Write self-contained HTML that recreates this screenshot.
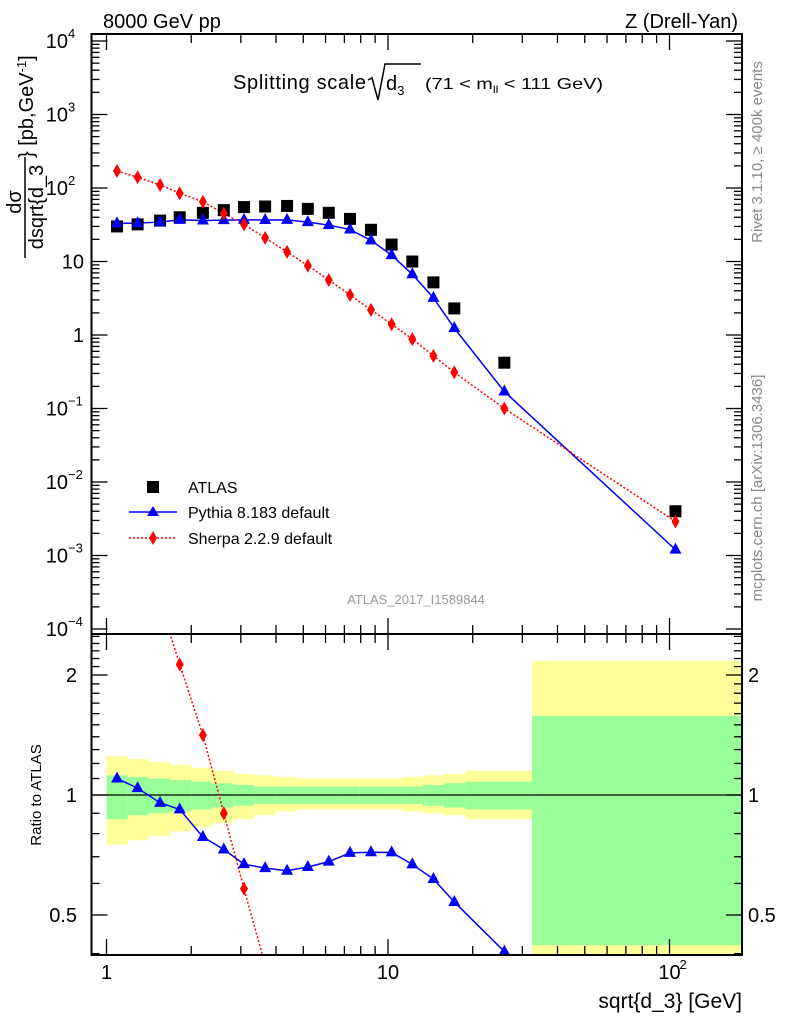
<!DOCTYPE html>
<html><head><meta charset="utf-8"><style>
html,body{margin:0;padding:0;background:#fff;overflow:hidden;width:786px;height:1024px;}
svg{display:block;font-family:"Liberation Sans",sans-serif;}
</style></head><body>
<svg id="chart" width="786" height="1024" viewBox="0 0 786 1024">
<g id="bands"></g>
<g id="ticks"></g>
<g id="series"></g>
<rect x="91.5" y="34" width="650.5" height="600" fill="none" stroke="#000" stroke-width="2"/>
<rect x="91.5" y="634" width="650.5" height="321" fill="none" stroke="#000" stroke-width="2"/>
<text x="103" y="28" font-size="20">8000 GeV pp</text>
<text x="738" y="28" font-size="20" text-anchor="end">Z (Drell-Yan)</text>
<g>
<text x="233" y="89" font-size="20" textLength="133">Splitting scale</text>
<path d="M368,80 L372,78 L378,100 L385,64 L421,64" fill="none" stroke="#000" stroke-width="1.5"/>
<text x="386" y="90" font-size="20">d<tspan font-size="13" dy="5">3</tspan></text>
<text x="425" y="89" font-size="16" textLength="178" lengthAdjust="spacingAndGlyphs">(71 &lt; m<tspan font-size="10" dy="4">ll</tspan><tspan dy="-4"> &lt; 111 GeV)</tspan></text>
</g>
<text x="416" y="604" font-size="13" fill="#999" text-anchor="middle">ATLAS_2017_I1589844</text>
<g>
<text transform="translate(21,202) rotate(-90)" font-size="20" text-anchor="middle">dσ</text>
<line x1="25" y1="258" x2="25" y2="157" stroke="#000" stroke-width="1.5"/>
<text transform="translate(43,207) rotate(-90)" font-size="20" text-anchor="middle">dsqrt{d_3</text>
<text transform="translate(33,158) rotate(-90)" font-size="20">} [pb,GeV<tspan font-size="13" dy="-7">-1</tspan><tspan dy="7">]</tspan></text>
</g>
<text transform="translate(41,795) rotate(-90)" font-size="15" text-anchor="middle">Ratio to ATLAS</text>
<text x="742" y="1008" font-size="21" text-anchor="end">sqrt{d_3} [GeV]</text>
<text transform="translate(762,152) rotate(-90)" font-size="15" fill="#888" text-anchor="middle">Rivet 3.1.10, ≥ 400k events</text>
<text transform="translate(762,488) rotate(-90)" font-size="15" fill="#888" text-anchor="middle">mcplots.cern.ch [arXiv:1306.3436]</text>
<g>
<rect x="147" y="481" width="12" height="12" fill="#000"/>
<text x="188" y="493" font-size="16">ATLAS</text>
<line x1="129" y1="512" x2="177" y2="512" stroke="#00f" stroke-width="1.5"/>
<path d="M153,506 L159,516 L147,516Z" fill="#00f"/>
<text x="188" y="518" font-size="16">Pythia 8.183 default</text>
<line x1="129" y1="538" x2="177" y2="538" stroke="#f00" stroke-width="1.5" stroke-dasharray="2,2"/>
<path d="M153,531 L157,538 L153,545 L149,538Z" fill="#f00"/>
<text x="188" y="544" font-size="16">Sherpa 2.2.9 default</text>
</g>
</svg>
<script>
const xCenters=[1.09,1.29,1.55,1.82,2.2,2.61,3.08,3.66,4.38,5.19,6.16,7.33,8.7,10.3,12.2,14.5,17.2,25.9,105];
const binEdges=[1,1.19,1.41,1.68,2,2.37,2.82,3.35,3.98,4.73,5.62,6.68,7.94,9.44,11.2,13.3,15.8,18.8,32.5,181];
const atlas=[30,32,36,40,46,50,55,56,57,52,46,38,27,17,10,5.2,2.3,0.42,0.004];
const pythia=[33,33.3,34.4,36.8,36.1,36.5,36.9,36.7,36.8,34.3,31.3,27.2,19.4,12.2,6.7,3.2,1.24,0.17,0.0012];
const sherpa=[170,140,110,85,65,45,32,21,13.5,8.8,5.6,3.5,2.2,1.4,0.88,0.52,0.31,0.1,0.0029];
const yellowUp=[1.25,1.23,1.21,1.19,1.17,1.15,1.13,1.12,1.11,1.10,1.10,1.10,1.10,1.10,1.11,1.12,1.13,1.15,2.17];
const yellowDn=[0.75,0.77,0.79,0.81,0.83,0.85,0.87,0.89,0.91,0.92,0.92,0.92,0.92,0.92,0.91,0.90,0.89,0.87,0.30];
const greenUp=[1.12,1.11,1.10,1.09,1.08,1.07,1.06,1.05,1.05,1.05,1.05,1.05,1.05,1.05,1.05,1.06,1.07,1.08,1.58];
const greenDn=[0.87,0.89,0.90,0.91,0.92,0.93,0.94,0.95,0.95,0.95,0.95,0.95,0.95,0.95,0.95,0.94,0.93,0.92,0.42];
const mainTickLabels=["10⁻⁴","10⁻³","10⁻²","10⁻¹","1","10","10²","10³","10⁴"];
const ratioTickLabels=["0.5","1","2"];
const ratioTickValues=[0.5,1,2];

const NS="http://www.w3.org/2000/svg";
const X0=91.5,X1=742,YT=34,YM=634,YB=955;
function sx(v){return 106.5+281.5*Math.log10(v);}
function sy(v){return 335-73.5*Math.log10(v);}
function sr(v){return 795-398.6*Math.log10(v);}
function el(tag,attrs,parent){const e=document.createElementNS(NS,tag);for(const k in attrs)e.setAttribute(k,attrs[k]);parent.appendChild(e);return e;}
const bands=document.getElementById('bands'),ticks=document.getElementById('ticks'),series=document.getElementById('series'),svg=document.getElementById('chart');
function clampR(y){return Math.max(YM,Math.min(YB,y));}

for(let i=0;i<xCenters.length;i++){
  const xa=Math.max(X0,sx(binEdges[i])),xb=Math.min(X1,sx(binEdges[i+1]));
  const y1=clampR(sr(yellowUp[i])),y2=clampR(sr(yellowDn[i]));
  const r=el('rect',{x:xa,y:y1,width:xb-xa,height:y2-y1,fill:'#ffff99'},bands);
  
  
  const g1=clampR(sr(greenUp[i])),g2=clampR(sr(greenDn[i]));
  const g=el('rect',{x:xa,y:g1,width:xb-xa,height:g2-g1,fill:'#99ff99'},bands);
  
  
}
el('line',{x1:X0,x2:X1,y1:sr(1),y2:sr(1),stroke:'#000','stroke-width':1.2},bands);

for(let d=0;d<3;d++){for(let m=1;m<10;m++){const v=m*Math.pow(10,d);const x=sx(v);if(x<X0||x>X1)continue;const L=m===1?16:9;
  el('line',{x1:x,x2:x,y1:YT,y2:YT+L,stroke:'#000','stroke-width':1.3},ticks);
  el('line',{x1:x,x2:x,y1:YM,y2:YM-L,stroke:'#000','stroke-width':1.3},ticks);
  el('line',{x1:x,x2:x,y1:YM,y2:YM+L,stroke:'#000','stroke-width':1.3},ticks);
  el('line',{x1:x,x2:x,y1:YB,y2:YB-L,stroke:'#000','stroke-width':1.3},ticks);}}
[["1",1],["10",10]].forEach(([t,v])=>{const tx=el('text',{x:sx(v),y:979,'font-size':20,'text-anchor':'middle'},svg);tx.textContent=t;});
{const tx=el('text',{x:sx(100),y:979,'font-size':20,'text-anchor':'middle'},svg);tx.textContent='10';
 const s=el('text',{x:sx(100)+10,y:969,'font-size':13},svg);s.textContent='2';}
for(let d=-4;d<=4;d++){for(let m=1;m<10;m++){const v=m*Math.pow(10,d);const y=sy(v);if(y<YT||y>YM)continue;const L=m===1?16:8;
  el('line',{x1:X0,x2:X0+L,y1:y,y2:y,stroke:'#000','stroke-width':1.3},ticks);el('line',{x1:X1,x2:X1-L,y1:y,y2:y,stroke:'#000','stroke-width':1.3},ticks);}}
mainTickLabels.forEach((t,i)=>{const d=i-4;const y=sy(Math.pow(10,d));let tx;
  if(d===0||d===1){tx=el('text',{x:84,y:y+7,'font-size':20,'text-anchor':'end'},svg);tx.textContent=t;}
  else{tx=el('text',{x:68,y:y+7,'font-size':20,'text-anchor':'end'},svg);tx.textContent='10';const s=el('text',{x:68,y:y-3,'font-size':13},svg);s.textContent=d<0?('−'+(-d)):String(d);}
  });
for(let k=4;k<=25;k++){const v=k/10;const y=sr(v);if(y<YM||y>YB)continue;const maj=(k===5||k===10||k===20);const L=maj?16:8;
  el('line',{x1:X0,x2:X0+L,y1:y,y2:y,stroke:'#000','stroke-width':1.3},ticks);el('line',{x1:X1,x2:X1-L,y1:y,y2:y,stroke:'#000','stroke-width':1.3},ticks);}
ratioTickValues.forEach((v,i)=>{const y=sr(v)+7;const a=el('text',{x:77,y:y,'font-size':20,'text-anchor':'end'},svg);a.textContent=ratioTickLabels[i];
  const b=el('text',{x:748,y:y,'font-size':20},svg);b.textContent=ratioTickLabels[i];});

const defs=el('defs',{},svg);
const cm=el('clipPath',{id:'cm'},defs);el('rect',{x:X0,y:YT,width:X1-X0,height:YM-YT},cm);
const cr=el('clipPath',{id:'cr'},defs);el('rect',{x:X0,y:YM,width:X1-X0,height:YB-YM},cr);
const gm=el('g',{'clip-path':'url(#cm)'},series),gr=el('g',{'clip-path':'url(#cr)'},series);

function tri(x,y,g,name){const p=el('path',{d:`M${x},${y-7} L${x+6},${y+4} L${x-6},${y+4}Z`,fill:'#00f'},g);}
function dia(x,y,g,name){const p=el('path',{d:`M${x},${y-7} L${x+4},${y} L${x},${y+7} L${x-4},${y}Z`,fill:'#f00'},g);}
el('polyline',{points:xCenters.map((x,i)=>sx(x)+','+sy(pythia[i])).join(' '),fill:'none',stroke:'#00f','stroke-width':1.5},gm);
el('polyline',{points:xCenters.map((x,i)=>sx(x)+','+sy(sherpa[i])).join(' '),fill:'none',stroke:'#f00','stroke-width':1.5,'stroke-dasharray':'2,2'},gm);
xCenters.forEach((x,i)=>{
  const r=el('rect',{x:sx(x)-6,y:sy(atlas[i])-6,width:12,height:12,fill:'#000'},gm);
  
  
  tri(sx(x),sy(pythia[i]),gm,'pythia-point');
  dia(sx(x),sy(sherpa[i]),gm,'sherpa-point');
});
const nR=xCenters.length-1;
const rx=xCenters.slice(0,nR);
const rp=rx.map((_,i)=>pythia[i]/atlas[i]),rs=rx.map((_,i)=>sherpa[i]/atlas[i]);
el('polyline',{points:rx.map((x,i)=>sx(x)+','+sr(rp[i])).join(' '),fill:'none',stroke:'#00f','stroke-width':1.5},gr);
el('polyline',{points:rx.map((x,i)=>sx(x)+','+sr(rs[i])).join(' '),fill:'none',stroke:'#f00','stroke-width':1.5,'stroke-dasharray':'2,2'},gr);
rx.forEach((x,i)=>{tri(sx(x),sr(rp[i]),gr,'pythia-ratio-point');dia(sx(x),sr(rs[i]),gr,'sherpa-ratio-point');});
</script>
</body></html>
